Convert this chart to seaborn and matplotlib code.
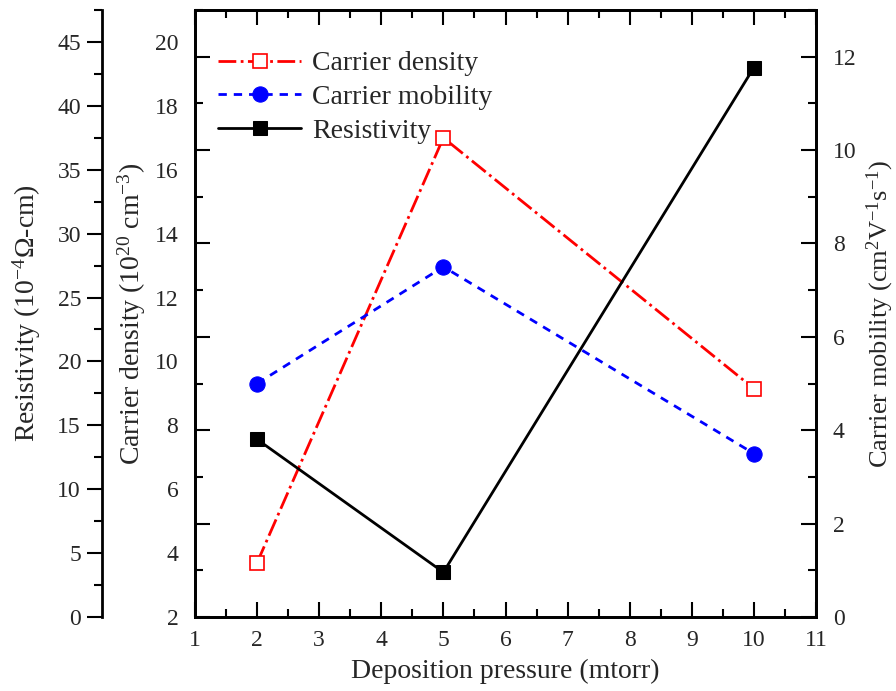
import matplotlib
matplotlib.use("Agg")
import matplotlib.pyplot as plt
import seaborn as sns
import numpy as np
import pandas as pd
from matplotlib.ticker import MultipleLocator

# ---- data ----
pressure = [2, 5, 10]
carrier_density = [3.7, 17.0, 9.15]      # 10^20 cm^-3
carrier_mobility = [5.0, 7.5, 3.5]       # cm^2 V^-1 s^-1
resistivity = [13.9, 3.5, 43.0]          # 10^-4 Ohm-cm

x_ticks = list(range(1, 12))
density_ticks = list(range(2, 21, 2))
mobility_ticks = list(range(0, 13, 2))
resistivity_ticks = list(range(0, 46, 5))

sns.set_theme(style="white")
plt.rcParams['font.family'] = ['Liberation Serif', 'DejaVu Serif']
plt.rcParams['mathtext.fontset'] = 'custom'
plt.rcParams['mathtext.rm'] = 'Liberation Serif'
plt.rcParams['mathtext.it'] = 'Liberation Serif:italic'
plt.rcParams['mathtext.bf'] = 'Liberation Serif:bold'

TICK_FS = 17
LABEL_FS = 20
LEG_FS = 20

fig = plt.figure(figsize=(8.96, 6.91), dpi=100)
W, H = 896, 691
L, R, T, B = 195, 816, 10, 617
ax = fig.add_axes([L / W, 1 - B / H, (R - L) / W, (B - T) / H])

# density axis (labels only on left)
ax.set_xlim(1, 11)
ax.set_ylim(2, 21)
ax.set_xticks(x_ticks)
ax.xaxis.set_minor_locator(MultipleLocator(0.5))
ax.set_yticks(density_ticks)
ax.tick_params(axis='x', which='major', direction='in', length=11, width=1.5,
               top=True, bottom=True, labelsize=TICK_FS, pad=9, color='black')
ax.tick_params(axis='x', which='minor', direction='in', length=6, width=1.5,
               top=True, bottom=True, color='black')
ax.tick_params(axis='y', which='both', length=0, labelsize=TICK_FS, pad=12)
for s in ax.spines.values():
    s.set_linewidth(2)
    s.set_color('black')

# mobility axis (ticks on both sides, labels right)
ax_m = ax.twinx()
ax_m.set_ylim(0, 13)
ax_m.set_yticks(mobility_ticks)
ax_m.yaxis.set_minor_locator(MultipleLocator(1))
ax_m.tick_params(axis='y', which='major', direction='in', length=11, width=1.5,
                 left=True, right=True, labelleft=False, labelright=True,
                 labelsize=TICK_FS, pad=12, color='black')
ax_m.tick_params(axis='y', which='minor', direction='in', length=6, width=1.5,
                 left=True, right=True, color='black')
for s in ax_m.spines.values():
    s.set_linewidth(2)
    s.set_color('black')

# resistivity axis (offset left)
ax_r = ax.twinx()
ax_r.set_ylim(0, 47.5)
ax_r.spines['left'].set_position(('axes', -0.15))
ax_r.spines['left'].set_visible(True)
ax_r.spines['left'].set_linewidth(2)
ax_r.spines['left'].set_color('black')
for k in ['right', 'top', 'bottom']:
    ax_r.spines[k].set_visible(False)
ax_r.yaxis.set_label_position('left')
ax_r.yaxis.set_ticks_position('left')
ax_r.set_yticks(resistivity_ticks)
ax_r.yaxis.set_minor_locator(MultipleLocator(2.5))
ax_r.tick_params(axis='y', which='major', direction='out', length=11, width=1.5,
                 labelsize=TICK_FS, pad=4, color='black')
ax_r.tick_params(axis='y', which='minor', direction='out', length=6, width=1.5,
                 color='black')

# ---- lines ----
df = pd.DataFrame({'p': pressure, 'n': carrier_density,
                   'mu': carrier_mobility, 'rho': resistivity})

sns.lineplot(data=df, x='p', y='n', ax=ax, color='#ff0000', linestyle='-.',
             linewidth=2, marker='s', markersize=10, markerfacecolor='white',
             markeredgecolor='#ff0000', markeredgewidth=1.2,
             label='Carrier density', legend=False)
sns.lineplot(data=df, x='p', y='mu', ax=ax_m, color='#0000ff', linestyle=(0, (3, 2.5)),
             linewidth=2, marker='o', markersize=11, markerfacecolor='#0000ff',
             markeredgecolor='#0000ff', label='Carrier mobility', legend=False)
sns.lineplot(data=df, x='p', y='rho', ax=ax_r, color='black', linestyle='-',
             linewidth=2, marker='s', markersize=10, markerfacecolor='black',
             markeredgecolor='black', label='Resistivity', legend=False)

ax.set_xlim(1, 11)
ax.set_ylim(2, 21)
ax_m.set_ylim(0, 13)
ax_r.set_ylim(0, 47.5)

# ---- labels ----
ax.set_xlabel('Deposition pressure (mtorr)', fontsize=LABEL_FS, labelpad=6)
ax.set_ylabel('Carrier density (10$^{20}$ cm$^{-3}$)', fontsize=LABEL_FS)
ax.yaxis.set_label_coords(-0.075, 0.5)
ax_m.set_ylabel('Carrier mobility (cm$^{2}$V$^{-1}$s$^{-1}$)', fontsize=19)
ax_m.yaxis.set_label_coords(1.078, 0.5)
ax_r.set_ylabel('Resistivity (10$^{-4}$Ω-cm)', fontsize=LABEL_FS)
ax_r.yaxis.set_label_coords(-0.245, 0.5)

# ---- legend ----
handles = []
labels = []
for a in (ax, ax_m, ax_r):
    h, l = a.get_legend_handles_labels()
    handles += h
    labels += l
leg = ax_r.legend(handles, labels, loc='upper left', bbox_to_anchor=(0.01, 0.96),
                  frameon=False, fontsize=LEG_FS, handlelength=3.0,
                  handletextpad=0.4, labelspacing=0.3, borderaxespad=0.2)

fig.savefig('out.png', dpi=100)
